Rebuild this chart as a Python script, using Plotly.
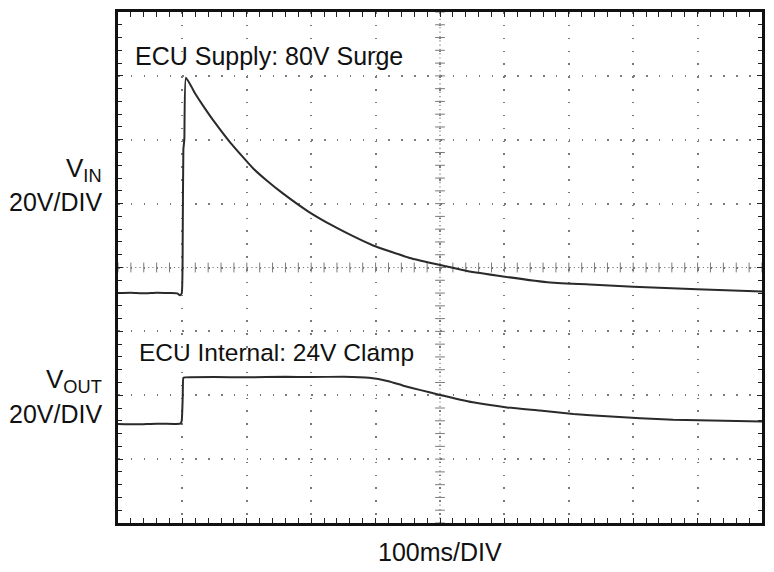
import plotly.graph_objects as go

# ---- data (time in ms, voltage in V) ----
vin_t = [0, 20, 40, 60, 80, 92, 96, 99, 100.5, 101.5, 103, 105.5, 120, 132, 150, 174, 210, 230, 256, 295, 334, 365, 396, 453, 511, 542, 598, 671, 740, 800, 899, 1000]
vin_v = [12, 12.1, 11.9, 12.1, 12.0, 11.9, 11.3, 12.0, 30, 57, 60, 79.4, 74.4, 70.7, 65.5, 59.2, 51.0, 47.4, 43.2, 37.6, 33.0, 29.8, 26.9, 23.0, 20.3, 18.9, 17.2, 15.3, 14.6, 14.0, 13.2, 12.5]

vout_t = [0, 30, 60, 90, 97, 99, 100.5, 101.5, 104, 150, 200, 260, 300, 350, 390, 420, 443, 470, 500, 551, 604, 655, 707, 759, 862, 1000]
vout_v = [9.4, 9.3, 9.5, 9.4, 9.5, 10.5, 18, 23.9, 24.0, 24.1, 24.0, 24.2, 24.1, 24.2, 23.9, 22.8, 21.4, 20.0, 18.5, 16.2, 14.6, 13.6, 12.5, 11.8, 10.7, 10.2]

x_divs = list(range(0, 1001, 100))
y_divs = list(range(-60, 101, 20))

TRACE = "#2a2a2a"
GRID = "#7a7a7a"

fig = go.Figure()

# centre cross-hair tick marks
minor_x = [i * 20 for i in range(51)]
minor_y = [-60 + i * 4 for i in range(41)]
fig.add_trace(go.Scatter(x=minor_x, y=[20] * len(minor_x), mode="markers",
                         marker=dict(symbol="line-ns", size=7, line=dict(color=GRID, width=1)),
                         hoverinfo="skip", showlegend=False))
fig.add_trace(go.Scatter(x=[500] * len(minor_y), y=minor_y, mode="markers",
                         marker=dict(symbol="line-ew", size=7, line=dict(color=GRID, width=1)),
                         hoverinfo="skip", showlegend=False))

fig.add_trace(go.Scatter(x=vin_t, y=vin_v, mode="lines",
                         line=dict(color=TRACE, width=2, shape="spline", smoothing=0.4),
                         name="VIN", showlegend=False))
fig.add_trace(go.Scatter(x=vout_t, y=vout_v, mode="lines",
                         line=dict(color=TRACE, width=2, shape="spline", smoothing=0.4),
                         name="VOUT", yaxis="y2", showlegend=False))

# dense centre lines
fig.add_shape(type="line", xref="x", yref="paper", x0=500, x1=500, y0=0, y1=1,
              line=dict(color=GRID, width=1.2, dash="1.2px,3.1px"), layer="below")
fig.add_shape(type="line", xref="paper", yref="y", x0=0, x1=1, y0=20, y1=20,
              line=dict(color=GRID, width=1.2, dash="1.2px,3.1px"), layer="below")

fig.update_layout(
    width=774, height=572,
    margin=dict(l=118, r=12, t=9, b=49),
    paper_bgcolor="white", plot_bgcolor="white",
    xaxis=dict(range=[0, 1000], tickvals=x_divs, showticklabels=False,
               showgrid=True, gridcolor=GRID, gridwidth=1.5, griddash="1.5px,11.35px",
               ticks="inside", ticklen=5, tickcolor="#222", tickwidth=1,
               minor=dict(dtick=20, ticks="inside", ticklen=4, tickcolor="#222", tickwidth=1, showgrid=False),
               showline=True, linecolor="#111", linewidth=3, mirror="allticks",
               zeroline=False, fixedrange=True),
    yaxis=dict(range=[-60, 100], tickvals=y_divs, showticklabels=False,
               showgrid=True, gridcolor=GRID, gridwidth=1.5, griddash="1.5px,11.38px",
               ticks="inside", ticklen=5, tickcolor="#222", tickwidth=1,
               minor=dict(dtick=4, ticks="inside", ticklen=4, tickcolor="#222", tickwidth=1, showgrid=False),
               showline=True, linecolor="#111", linewidth=3, mirror="allticks",
               zeroline=False, fixedrange=True),
    yaxis2=dict(range=[-21.6, 138.4], overlaying="y", visible=False, fixedrange=True),
)

INNER = "Liberation Sans, Arial, sans-serif"
OUTER = "Liberation Sans, Arial, sans-serif"

def px_x(px):
    return (px - 118) / 644.0

def px_y(py):
    return (523 - py) / 514.0

anns = [
    dict(text="ECU Supply: 80V Surge", x=px_x(133), y=px_y(53), xanchor="left", yanchor="middle",
         font=dict(family=INNER, size=25, color="#111")),
    dict(text="ECU Internal: 24V Clamp", x=px_x(137), y=px_y(352), xanchor="left", yanchor="middle",
         font=dict(family=INNER, size=24.5, color="#111")),
    dict(text="V<sub>IN</sub>", x=px_x(104), y=px_y(167), xanchor="right", yanchor="middle",
         font=dict(family=OUTER, size=26, color="#111")),
    dict(text="20V/DIV", x=px_x(104), y=px_y(200), xanchor="right", yanchor="middle",
         font=dict(family=OUTER, size=25, color="#111")),
    dict(text="V<sub>OUT</sub>", x=px_x(104), y=px_y(380), xanchor="right", yanchor="middle",
         font=dict(family=OUTER, size=26, color="#111")),
    dict(text="20V/DIV", x=px_x(104), y=px_y(413), xanchor="right", yanchor="middle",
         font=dict(family=OUTER, size=25, color="#111")),
    dict(text="100ms/DIV", x=0.5, y=px_y(552), xanchor="center", yanchor="middle",
         font=dict(family=OUTER, size=25, color="#111")),
]
for a in anns:
    fig.add_annotation(xref="paper", yref="paper", showarrow=False, **a)

fig.write_html("out.html")
